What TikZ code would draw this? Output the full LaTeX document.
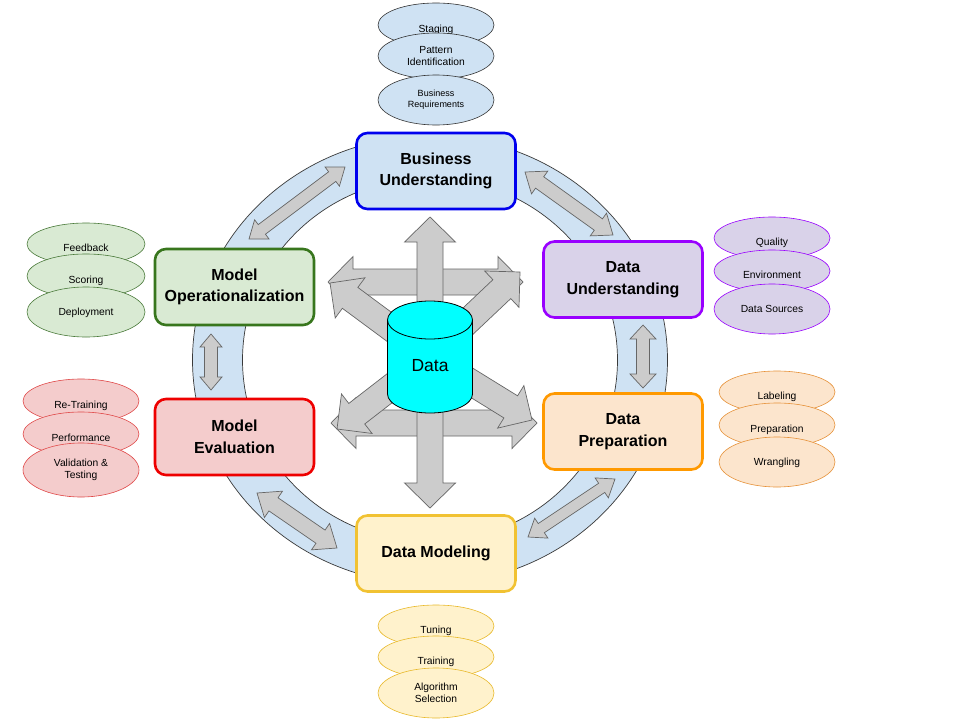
\documentclass[tikz,border=0pt]{standalone}
\usepackage{fontspec}
\setmainfont{Liberation Sans}
\usetikzlibrary{shapes.geometric,calc}
\definecolor{ringFill}{HTML}{CFE2F3}
\definecolor{ringDraw}{HTML}{3A3A3A}
\definecolor{arrFill}{HTML}{CCCCCC}
\definecolor{arrDraw}{HTML}{666666}
\definecolor{buFill}{HTML}{CFE2F3}\definecolor{buDraw}{HTML}{0000EE}
\definecolor{duFill}{HTML}{D9D2E9}\definecolor{duDraw}{HTML}{9900FF}
\definecolor{dpFill}{HTML}{FCE5CD}\definecolor{dpDraw}{HTML}{FF9900}
\definecolor{dmFill}{HTML}{FFF2CC}\definecolor{dmDraw}{HTML}{F1C232}
\definecolor{meFill}{HTML}{F4CCCC}\definecolor{meDraw}{HTML}{EE0000}
\definecolor{moFill}{HTML}{D9EAD3}\definecolor{moDraw}{HTML}{38761D}
\definecolor{buEll}{HTML}{333333}
\definecolor{moEll}{HTML}{4A7A3A}
\definecolor{meEll}{HTML}{E04848}
\definecolor{duEll}{HTML}{9900FF}
\definecolor{dpEll}{HTML}{E69138}
\definecolor{dmEll}{HTML}{E8B92A}
\definecolor{cylFill}{HTML}{00FFFF}
\tikzset{
  blockarrow/.style={fill=arrFill, draw=arrDraw, line width=0.7pt, line join=miter},
  stagebox/.style={rectangle, rounded corners=11pt, line width=2.6pt, minimum width=159pt,
    minimum height=76pt, inner sep=0pt, align=center, font=\fontsize{16}{21.5}\selectfont\bfseries},
  ell/.style={ellipse, draw, line width=0.6pt, minimum width=116pt, inner sep=0pt,
    font=\fontsize{10.3}{12.5}\selectfont},
  ellup/.style={text height=14pt, text depth=0pt},
  elllow/.style={text height=7.4pt, text depth=0pt},
}
% double block arrow: [style]{A}{B}{shaft half}{head half}{head length}
\newcommand{\blkdouble}[6][]{%
  \coordinate (bdA) at ($(#2)!#6!(#3)$);
  \coordinate (bdB) at ($(#3)!#6!(#2)$);
  \draw[blockarrow,#1] (#2) -- ($(bdA)!#5!90:(#3)$) -- ($(bdA)!#4!90:(#3)$)
    -- ($(bdB)!#4!-90:(#2)$) -- ($(bdB)!#5!-90:(#2)$) -- (#3)
    -- ($(bdB)!#5!90:(#2)$) -- ($(bdB)!#4!90:(#2)$)
    -- ($(bdA)!#4!-90:(#3)$) -- ($(bdA)!#5!-90:(#3)$) -- cycle;
}
% single block arrow: [style]{tail}{tip}{shaft half}{head half}{head length}
\newcommand{\blksingle}[6][]{%
  \coordinate (bsB) at ($(#3)!#6!(#2)$);
  \draw[blockarrow,#1] ($(#2)!#4!90:(#3)$) -- ($(bsB)!#4!-90:(#2)$) -- ($(bsB)!#5!-90:(#2)$)
    -- (#3) -- ($(bsB)!#5!90:(#2)$) -- ($(bsB)!#4!90:(#2)$) -- ($(#2)!#4!-90:(#3)$) -- cycle;
}
\begin{document}
\begin{tikzpicture}[x=1pt,y=-1pt]
\useasboundingbox (0,0) rectangle (960,720);
\fill[white] (0,0) rectangle (960,720);

% ring
\draw[fill=ringFill, draw=ringDraw, line width=0.7pt, even odd rule]
  (430,360) ellipse [x radius=237.5pt, y radius=224pt]
  (430,360) ellipse [x radius=187.5pt, y radius=182pt];

% ring arrows
\coordinate (r1a) at (249,239); \coordinate (r1b) at (345,167);
\coordinate (r2a) at (525,172); \coordinate (r2b) at (613,235);
\coordinate (r3a) at (643,325); \coordinate (r3b) at (643,388);
\coordinate (r4a) at (615,479); \coordinate (r4b) at (528,537);
\coordinate (r5a) at (257,493); \coordinate (r5b) at (337,548);
\coordinate (r6a) at (211,334); \coordinate (r6b) at (211,390);
\blkdouble{r1a}{r1b}{6pt}{12pt}{16pt}
\blkdouble{r2a}{r2b}{7pt}{14pt}{18pt}
\blkdouble{r3a}{r3b}{6.5pt}{13pt}{14pt}
\blkdouble{r4a}{r4b}{5.5pt}{12pt}{16pt}
\blkdouble{r5a}{r5b}{8pt}{16pt}{20pt}
\blkdouble{r6a}{r6b}{6.5pt}{11pt}{13pt}

% central arrows
\coordinate (hu1) at (328,282); \coordinate (hu2) at (523,282);
\coordinate (hl1) at (331,423); \coordinate (hl2) at (537,423);
\coordinate (vt) at (430,217); \coordinate (vb) at (430,508);
\coordinate (dc) at (430,357);
\coordinate (dul) at (330,283); \coordinate (dur) at (520,272);
\coordinate (dll) at (337,429); \coordinate (dlr) at (532,420);
\blkdouble{hu1}{hu2}{13pt}{25.5pt}{25pt}
\blkdouble{hl1}{hl2}{13pt}{25.5pt}{25pt}
\blkdouble{vt}{vb}{13pt}{25.5pt}{25pt}
\blksingle{dc}{dul}{13pt}{25pt}{25pt}
\blksingle{dc}{dur}{13pt}{25pt}{25pt}
\blksingle{dc}{dll}{13pt}{25pt}{25pt}
\blksingle{dc}{dlr}{13pt}{25pt}{25pt}

% cylinder
\draw[fill=cylFill, draw=black, line width=0.8pt]
  (387.5,320) -- (387.5,394) arc[start angle=180, end angle=360, x radius=42.5pt, y radius=19pt]
  -- (472.5,320) arc[start angle=0, end angle=180, x radius=42.5pt, y radius=19pt] -- cycle;
\draw[draw=black, line width=0.8pt]
  (387.5,320) arc[start angle=180, end angle=360, x radius=42.5pt, y radius=19pt];
\node[font=\fontsize{17.5}{20}\selectfont] (data) at (430,366) {Data};

% stage boxes
\node[stagebox, fill=buFill, draw=buDraw] (bu) at (436,171) {Business\\Understanding};
\node[stagebox, fill=duFill, draw=duDraw] (du) at (623,279.5) {Data\\Understanding};
\node[stagebox, fill=dpFill, draw=dpDraw] (dp) at (623,431.5) {Data\\Preparation};
\node[stagebox, fill=dmFill, draw=dmDraw] (dm) at (436,553.5) {Data Modeling};
\node[stagebox, fill=meFill, draw=meDraw] (me) at (234.5,437) {Model\\Evaluation};
\node[stagebox, fill=moFill, draw=moDraw] (mo) at (234.5,287) {Model\\Operationalization};

% business understanding ellipses
\node[ell, ellup, fill=buFill, draw=buEll, minimum height=44pt] (eStaging) at (436,25) {Staging};
\node[ell, fill=buFill, draw=buEll, minimum height=46pt, align=center] (ePattern) at (436,56) {Pattern\\Identification};
\node[ell, fill=buFill, draw=buEll, minimum height=50pt, align=center,
  font=\fontsize{9}{11}\selectfont] (eBizReq) at (436,100) {Business\\Requirements};

% model operationalization ellipses
\node[ell, ellup, fill=moFill, draw=moEll, minimum width=118pt, minimum height=42pt] (eFeedback) at (86,244) {Feedback};
\node[ell, ellup, fill=moFill, draw=moEll, minimum width=118pt, minimum height=44pt] (eScoring) at (86,276) {Scoring};
\node[ell, elllow, fill=moFill, draw=moEll, minimum width=118pt, minimum height=50pt] (eDeploy) at (86,312) {Deployment};

% model evaluation ellipses
\node[ell, ellup, fill=meFill, draw=meEll, minimum height=44pt] (eRetrain) at (81,401) {Re-Training};
\node[ell, ellup, fill=meFill, draw=meEll, minimum height=44pt] (ePerf) at (81,434) {Performance};
\node[ell, fill=meFill, draw=meEll, minimum height=54pt, align=center] (eValid) at (81,470) {Validation \&\\Testing};

% data understanding ellipses
\node[ell, ellup, fill=duFill, draw=duEll, minimum height=42pt] (eQuality) at (772,238) {Quality};
\node[ell, ellup, fill=duFill, draw=duEll, minimum height=42pt] (eEnv) at (772,271) {Environment};
\node[ell, elllow, fill=duFill, draw=duEll, minimum height=50pt] (eSources) at (772,309) {Data Sources};

% data preparation ellipses
\node[ell, ellup, fill=dpFill, draw=dpEll, minimum height=42pt] (eLabel) at (777,392) {Labeling};
\node[ell, ellup, fill=dpFill, draw=dpEll, minimum height=44pt] (ePrep) at (777,425) {Preparation};
\node[ell, elllow, fill=dpFill, draw=dpEll, minimum height=50pt] (eWrang) at (777,462) {Wrangling};

% data modeling ellipses
\node[ell, ellup, fill=dmFill, draw=dmEll, minimum height=42pt] (eTuning) at (436,626) {Tuning};
\node[ell, ellup, fill=dmFill, draw=dmEll, minimum height=42pt] (eTraining) at (436,657) {Training};
\node[ell, fill=dmFill, draw=dmEll, minimum height=50pt, align=center] (eAlgo) at (436,693) {Algorithm\\Selection};
\end{tikzpicture}
\end{document}
